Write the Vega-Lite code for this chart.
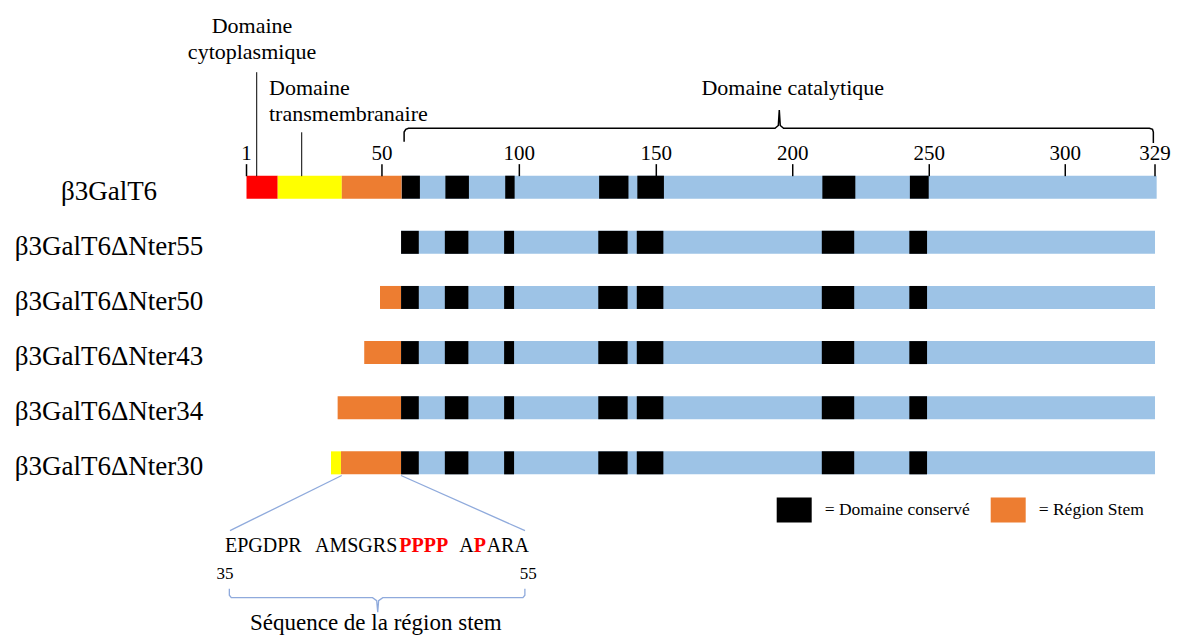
{
  "$schema": "https://vega.github.io/schema/vega-lite/v6.json",
  "width": 1178,
  "height": 642,
  "autosize": {"type": "none"},
  "padding": 0,
  "background": "white",
  "config": {"view": {"stroke": null}, "font": "Liberation Serif, Times New Roman, serif"},
  "datasets": {
    "bars": [
      {"r": 0, "s": 1, "e": 12.26, "p": "cyto"},
      {"r": 0, "s": 12.26, "e": 35.4, "p": "trans"},
      {"r": 0, "s": 35.4, "e": 57.2, "p": "Région Stem"},
      {"r": 0, "s": 57, "e": 329.6, "p": "cat"},
      {"r": 0, "s": 57.1, "e": 63.6, "p": "Domaine conservé"},
      {"r": 0, "s": 72.8, "e": 81.3, "p": "Domaine conservé"},
      {"r": 0, "s": 94.4, "e": 97.8, "p": "Domaine conservé"},
      {"r": 0, "s": 128.3, "e": 138.9, "p": "Domaine conservé"},
      {"r": 0, "s": 142.1, "e": 151.7, "p": "Domaine conservé"},
      {"r": 0, "s": 208.9, "e": 220.8, "p": "Domaine conservé"},
      {"r": 0, "s": 240.5, "e": 247.3, "p": "Domaine conservé"},
      {"r": 1, "s": 56.8, "e": 329, "p": "cat"},
      {"r": 1, "s": 56.8, "e": 63.2, "p": "Domaine conservé"},
      {"r": 1, "s": 72.6, "e": 81.1, "p": "Domaine conservé"},
      {"r": 1, "s": 94.0, "e": 97.6, "p": "Domaine conservé"},
      {"r": 1, "s": 128.0, "e": 138.6, "p": "Domaine conservé"},
      {"r": 1, "s": 141.9, "e": 151.5, "p": "Domaine conservé"},
      {"r": 1, "s": 208.7, "e": 220.4, "p": "Domaine conservé"},
      {"r": 1, "s": 240.3, "e": 246.7, "p": "Domaine conservé"},
      {"r": 2, "s": 49.2, "e": 56.9, "p": "Région Stem"},
      {"r": 2, "s": 56.8, "e": 329, "p": "cat"},
      {"r": 2, "s": 56.8, "e": 63.2, "p": "Domaine conservé"},
      {"r": 2, "s": 72.6, "e": 81.1, "p": "Domaine conservé"},
      {"r": 2, "s": 94.0, "e": 97.6, "p": "Domaine conservé"},
      {"r": 2, "s": 128.0, "e": 138.6, "p": "Domaine conservé"},
      {"r": 2, "s": 141.9, "e": 151.5, "p": "Domaine conservé"},
      {"r": 2, "s": 208.7, "e": 220.4, "p": "Domaine conservé"},
      {"r": 2, "s": 240.3, "e": 246.7, "p": "Domaine conservé"},
      {"r": 3, "s": 43.5, "e": 56.9, "p": "Région Stem"},
      {"r": 3, "s": 56.8, "e": 329, "p": "cat"},
      {"r": 3, "s": 56.8, "e": 63.2, "p": "Domaine conservé"},
      {"r": 3, "s": 72.6, "e": 81.1, "p": "Domaine conservé"},
      {"r": 3, "s": 94.0, "e": 97.6, "p": "Domaine conservé"},
      {"r": 3, "s": 128.0, "e": 138.6, "p": "Domaine conservé"},
      {"r": 3, "s": 141.9, "e": 151.5, "p": "Domaine conservé"},
      {"r": 3, "s": 208.7, "e": 220.4, "p": "Domaine conservé"},
      {"r": 3, "s": 240.3, "e": 246.7, "p": "Domaine conservé"},
      {"r": 4, "s": 33.9, "e": 56.9, "p": "Région Stem"},
      {"r": 4, "s": 56.8, "e": 329, "p": "cat"},
      {"r": 4, "s": 56.8, "e": 63.2, "p": "Domaine conservé"},
      {"r": 4, "s": 72.6, "e": 81.1, "p": "Domaine conservé"},
      {"r": 4, "s": 94.0, "e": 97.6, "p": "Domaine conservé"},
      {"r": 4, "s": 128.0, "e": 138.6, "p": "Domaine conservé"},
      {"r": 4, "s": 141.9, "e": 151.5, "p": "Domaine conservé"},
      {"r": 4, "s": 208.7, "e": 220.4, "p": "Domaine conservé"},
      {"r": 4, "s": 240.3, "e": 246.7, "p": "Domaine conservé"},
      {"r": 5, "s": 31.5, "e": 35.1, "p": "trans"},
      {"r": 5, "s": 35.1, "e": 56.9, "p": "Région Stem"},
      {"r": 5, "s": 56.8, "e": 329, "p": "cat"},
      {"r": 5, "s": 56.8, "e": 63.2, "p": "Domaine conservé"},
      {"r": 5, "s": 72.6, "e": 81.1, "p": "Domaine conservé"},
      {"r": 5, "s": 94.0, "e": 97.6, "p": "Domaine conservé"},
      {"r": 5, "s": 128.0, "e": 138.6, "p": "Domaine conservé"},
      {"r": 5, "s": 141.9, "e": 151.5, "p": "Domaine conservé"},
      {"r": 5, "s": 208.7, "e": 220.4, "p": "Domaine conservé"},
      {"r": 5, "s": 240.3, "e": 246.7, "p": "Domaine conservé"}
    ],
    "rows": [
      {"r": 0, "name": "β3GalT6"},
      {"r": 1, "name": "β3GalT6ΔNter55"},
      {"r": 2, "name": "β3GalT6ΔNter50"},
      {"r": 3, "name": "β3GalT6ΔNter43"},
      {"r": 4, "name": "β3GalT6ΔNter34"},
      {"r": 5, "name": "β3GalT6ΔNter30"}
    ],
    "ticks": [
      {"pos": 1, "lab": "1"},
      {"pos": 49.9, "lab": "50"},
      {"pos": 99.5, "lab": "100"},
      {"pos": 148.95, "lab": "150"},
      {"pos": 198.2, "lab": "200"},
      {"pos": 247.5, "lab": "250"},
      {"pos": 296.6, "lab": "300"},
      {"pos": 329, "lab": "329"}
    ],
    "pointers": [
      {"x": 4.68, "y1": -2.086},
      {"x": 20.93, "y1": -0.996}
    ],
    "notesCenter": [
      {"x": 2.99, "y": -2.8, "t": "Domaine"},
      {"x": 2.99, "y": -2.323, "t": "cytoplasmique"},
      {"x": 198.2, "y": -1.668, "t": "Domaine catalytique"}
    ],
    "notesLeft": [
      {"x": 9.12, "y": -1.668, "t": "Domaine"},
      {"x": 9.12, "y": -1.193, "t": "transmembranaire"}
    ],
    "braceTop": [
      {"o": 1, "x": 57.9, "y": -0.823},
      {"o": 2, "x": 57.9, "y": -1.0},
      {"o": 3, "x": 58.5, "y": -1.05},
      {"o": 4, "x": 59.5, "y": -1.068},
      {"o": 5, "x": 191.8, "y": -1.068},
      {"o": 6, "x": 193.0, "y": -1.12},
      {"o": 7, "x": 193.35, "y": -1.4},
      {"o": 8, "x": 193.7, "y": -1.12},
      {"o": 9, "x": 194.9, "y": -1.068},
      {"o": 10, "x": 327.0, "y": -1.068},
      {"o": 11, "x": 328.1, "y": -1.05},
      {"o": 12, "x": 328.4, "y": -1.0},
      {"o": 13, "x": 328.4, "y": -0.8}
    ],
    "blueLines": [
      {"g": "a", "o": 1, "x": 35.37, "y": 5.23},
      {"g": "a", "o": 2, "x": -4.96, "y": 6.23},
      {"g": "b", "o": 1, "x": 56.78, "y": 5.23},
      {"g": "b", "o": 2, "x": 101.55, "y": 6.23},
      {"g": "c", "o": 1, "x": -5.2, "y": 7.284},
      {"g": "c", "o": 2, "x": -5.2, "y": 7.4},
      {"g": "c", "o": 3, "x": -4.5, "y": 7.445},
      {"g": "c", "o": 4, "x": 46.5, "y": 7.445},
      {"g": "c", "o": 5, "x": 48.0, "y": 7.5},
      {"g": "c", "o": 6, "x": 48.37, "y": 7.707},
      {"g": "c", "o": 7, "x": 48.7, "y": 7.5},
      {"g": "c", "o": 8, "x": 50.2, "y": 7.445},
      {"g": "c", "o": 9, "x": 100.8, "y": 7.445},
      {"g": "c", "o": 10, "x": 101.5, "y": 7.4},
      {"g": "c", "o": 11, "x": 101.5, "y": 7.284}
    ],
    "seqBlack": [
      {"x": -6.76, "t": "EPGDPR"},
      {"x": 25.73, "t": "AMSGRS"},
      {"x": 77.83, "t": "A"},
      {"x": 87.7, "t": "ARA"}
    ],
    "seqRed": [
      {"x": 56.17, "t": "PPPP"},
      {"x": 83.0, "t": "P"}
    ],
    "seqNums": [
      {"x": -6.76, "t": "35"},
      {"x": 102.74, "t": "55"}
    ],
    "stemLabel": [
      {"x": 47.68, "t": "Séquence de la région stem"}
    ]
  },
  "layer": [
    {
      "data": {"name": "bars"},
      "mark": {"type": "bar", "size": 23},
      "encoding": {
        "x": {"field": "s", "type": "quantitative", "scale": {"domain": [-88, 337.3], "nice": false, "zero": false}, "axis": null},
        "x2": {"field": "e"},
        "y": {"field": "r", "type": "quantitative", "scale": {"domain": [-3.305, 8.159], "nice": false, "zero": false, "reverse": true}, "axis": null},
        "color": {
          "field": "p",
          "type": "nominal",
          "scale": {
            "domain": ["Domaine conservé", "Région Stem", "cyto", "trans", "cat"],
            "range": ["#000000", "#ED7D31", "#FF0000", "#FFFF00", "#9DC3E6"]
          },
          "legend": {
            "orient": "none",
            "legendX": 776.7,
            "legendY": 492.5,
            "direction": "horizontal",
            "title": null,
            "values": ["Domaine conservé", "Région Stem"],
            "symbolType": "M-1,-0.714H1V0.714H-1Z",
            "symbolSize": 1225,
            "symbolStrokeWidth": 0,
            "symbolOpacity": 1,
            "labelFont": "Liberation Serif, Times New Roman, serif",
            "labelFontSize": 17.5,
            "labelColor": "black",
            "labelOffset": 13,
            "columnPadding": 21,
            "padding": 0,
            "labelLimit": 0,
            "labelExpr": "'= ' + datum.label"
          }
        }
      }
    },
    {
      "data": {"name": "ticks"},
      "mark": {"type": "rule", "color": "black", "strokeWidth": 1.5},
      "encoding": {
        "x": {"field": "pos", "type": "quantitative", "scale": {"domain": [-88, 337.3], "nice": false, "zero": false}, "axis": null},
        "y": {"datum": -0.418, "type": "quantitative", "scale": {"domain": [-3.305, 8.159], "nice": false, "zero": false, "reverse": true}, "axis": null},
        "y2": {"datum": -0.2}
      }
    },
    {
      "data": {"name": "pointers"},
      "mark": {"type": "rule", "color": "black", "strokeWidth": 1},
      "encoding": {
        "x": {"field": "x", "type": "quantitative", "scale": {"domain": [-88, 337.3], "nice": false, "zero": false}, "axis": null},
        "y": {"field": "y1", "type": "quantitative", "scale": {"domain": [-3.305, 8.159], "nice": false, "zero": false, "reverse": true}, "axis": null},
        "y2": {"datum": -0.2}
      }
    },
    {
      "data": {"name": "ticks"},
      "mark": {"type": "text", "font": "Liberation Serif, Times New Roman, serif", "fontSize": 21, "align": "center", "baseline": "alphabetic", "color": "black"},
      "encoding": {
        "x": {"field": "pos", "type": "quantitative", "scale": {"domain": [-88, 337.3], "nice": false, "zero": false}, "axis": null},
        "y": {"datum": -0.496, "type": "quantitative", "scale": {"domain": [-3.305, 8.159], "nice": false, "zero": false, "reverse": true}, "axis": null},
        "text": {"field": "lab"}
      }
    },
    {
      "data": {"name": "notesCenter"},
      "mark": {"type": "text", "font": "Liberation Serif, Times New Roman, serif", "fontSize": 22, "align": "center", "baseline": "alphabetic", "color": "black"},
      "encoding": {
        "x": {"field": "x", "type": "quantitative", "scale": {"domain": [-88, 337.3], "nice": false, "zero": false}, "axis": null},
        "y": {"field": "y", "type": "quantitative", "scale": {"domain": [-3.305, 8.159], "nice": false, "zero": false, "reverse": true}, "axis": null},
        "text": {"field": "t"}
      }
    },
    {
      "data": {"name": "notesLeft"},
      "mark": {"type": "text", "font": "Liberation Serif, Times New Roman, serif", "fontSize": 22, "align": "left", "baseline": "alphabetic", "color": "black"},
      "encoding": {
        "x": {"field": "x", "type": "quantitative", "scale": {"domain": [-88, 337.3], "nice": false, "zero": false}, "axis": null},
        "y": {"field": "y", "type": "quantitative", "scale": {"domain": [-3.305, 8.159], "nice": false, "zero": false, "reverse": true}, "axis": null},
        "text": {"field": "t"}
      }
    },
    {
      "data": {"name": "rows"},
      "mark": {"type": "text", "font": "Liberation Serif, Times New Roman, serif", "fontSize": 27, "align": "center", "baseline": "alphabetic", "dy": 12.5, "color": "black"},
      "encoding": {
        "x": {"datum": -48.64, "type": "quantitative", "scale": {"domain": [-88, 337.3], "nice": false, "zero": false}, "axis": null},
        "y": {"field": "r", "type": "quantitative", "scale": {"domain": [-3.305, 8.159], "nice": false, "zero": false, "reverse": true}, "axis": null},
        "text": {"field": "name"}
      }
    },
    {
      "data": {"name": "braceTop"},
      "mark": {"type": "line", "color": "black", "strokeWidth": 1.5},
      "encoding": {
        "x": {"field": "x", "type": "quantitative", "scale": {"domain": [-88, 337.3], "nice": false, "zero": false}, "axis": null},
        "y": {"field": "y", "type": "quantitative", "scale": {"domain": [-3.305, 8.159], "nice": false, "zero": false, "reverse": true}, "axis": null},
        "order": {"field": "o", "type": "quantitative"}
      }
    },
    {
      "data": {"name": "blueLines"},
      "mark": {"type": "line", "color": "#8FAADC", "strokeWidth": 1.3},
      "encoding": {
        "x": {"field": "x", "type": "quantitative", "scale": {"domain": [-88, 337.3], "nice": false, "zero": false}, "axis": null},
        "y": {"field": "y", "type": "quantitative", "scale": {"domain": [-3.305, 8.159], "nice": false, "zero": false, "reverse": true}, "axis": null},
        "detail": {"field": "g", "type": "nominal"},
        "order": {"field": "o", "type": "quantitative"}
      }
    },
    {
      "data": {"name": "seqBlack"},
      "mark": {"type": "text", "font": "Liberation Serif, Times New Roman, serif", "fontSize": 20, "align": "left", "baseline": "alphabetic", "color": "black"},
      "encoding": {
        "x": {"field": "x", "type": "quantitative", "scale": {"domain": [-88, 337.3], "nice": false, "zero": false}, "axis": null},
        "y": {"datum": 6.623, "type": "quantitative", "scale": {"domain": [-3.305, 8.159], "nice": false, "zero": false, "reverse": true}, "axis": null},
        "text": {"field": "t"}
      }
    },
    {
      "data": {"name": "seqRed"},
      "mark": {"type": "text", "font": "Liberation Serif, Times New Roman, serif", "fontSize": 20, "fontWeight": "bold", "align": "left", "baseline": "alphabetic", "color": "#FF0000"},
      "encoding": {
        "x": {"field": "x", "type": "quantitative", "scale": {"domain": [-88, 337.3], "nice": false, "zero": false}, "axis": null},
        "y": {"datum": 6.623, "type": "quantitative", "scale": {"domain": [-3.305, 8.159], "nice": false, "zero": false, "reverse": true}, "axis": null},
        "text": {"field": "t"}
      }
    },
    {
      "data": {"name": "seqNums"},
      "mark": {"type": "text", "font": "Liberation Serif, Times New Roman, serif", "fontSize": 17, "align": "center", "baseline": "alphabetic", "color": "black"},
      "encoding": {
        "x": {"field": "x", "type": "quantitative", "scale": {"domain": [-88, 337.3], "nice": false, "zero": false}, "axis": null},
        "y": {"datum": 7.11, "type": "quantitative", "scale": {"domain": [-3.305, 8.159], "nice": false, "zero": false, "reverse": true}, "axis": null},
        "text": {"field": "t"}
      }
    },
    {
      "data": {"name": "stemLabel"},
      "mark": {"type": "text", "font": "Liberation Serif, Times New Roman, serif", "fontSize": 23, "align": "center", "baseline": "alphabetic", "color": "black"},
      "encoding": {
        "x": {"field": "x", "type": "quantitative", "scale": {"domain": [-88, 337.3], "nice": false, "zero": false}, "axis": null},
        "y": {"datum": 8.034, "type": "quantitative", "scale": {"domain": [-3.305, 8.159], "nice": false, "zero": false, "reverse": true}, "axis": null},
        "text": {"field": "t"}
      }
    }
  ]
}
